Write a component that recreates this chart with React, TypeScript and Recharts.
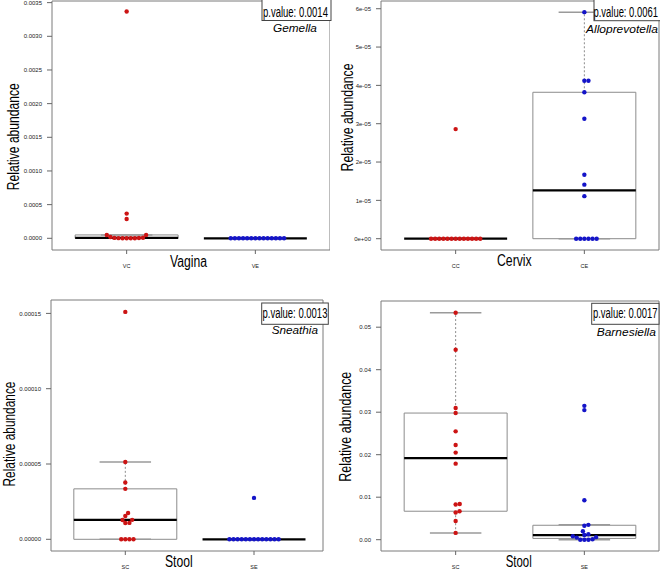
import React from 'react';
import { ComposedChart, Scatter, XAxis, YAxis, ReferenceArea, ReferenceLine } from 'recharts';

const FONT = '"Liberation Sans", Arial, Helvetica, sans-serif';
const RED = '#CC1414';
const BLUE = '#1414C8';

// ---------- data ----------
const vaginaGroups = ['VC', 'VE'];
const vaginaVC = [0.003368, 0.000367, 0.000287, 0.00005, 0.000048, 0.00002, 0.000008, 0.000006, 0.000004, 0.000002, 0, 0, 0, 0];
const vaginaVE = [0, 0, 0, 0, 0, 0, 0, 0, 0, 0, 0, 0, 0, 0];
const vaginaTicks = [0, 0.0005, 0.001, 0.0015, 0.002, 0.0025, 0.003, 0.0035];
const vaginaTickLabels = ['0.0000', '0.0005', '0.0010', '0.0015', '0.0020', '0.0025', '0.0030', '0.0035'];

const cervixGroups = ['CC', 'CE'];
const cervixCC = [0.0000286, 0, 0, 0, 0, 0, 0, 0, 0, 0, 0, 0, 0, 0];
const cervixCE = [0.0000591, 0.0000412, 0.0000412, 0.0000382, 0.0000313, 0.0000167, 0.0000141, 0.0000111, 0, 0, 0, 0, 0, 0];
const cervixTicks = [0, 0.00001, 0.00002, 0.00003, 0.00004, 0.00005, 0.00006];
const cervixTickLabels = ['0e+00', '1e-05', '2e-05', '3e-05', '4e-05', '5e-05', '6e-05'];

const stoolGroups = ['SC', 'SE'];
const sneathiaSC = [0.000151, 0.0000513, 0.0000377, 0.0000335, 0.0000175, 0.0000155, 0.0000129, 0.0000128, 0.0000109, 0.0000108, 0, 0, 0, 0];
const sneathiaSE = [0.0000275, 0, 0, 0, 0, 0, 0, 0, 0, 0, 0, 0, 0, 0];
const sneathiaTicks = [0, 0.00005, 0.0001, 0.00015];
const sneathiaTickLabels = ['0.00000', '0.00005', '0.00010', '0.00015'];

const barnesiellaSC = [0.0534, 0.0447, 0.031, 0.0298, 0.0255, 0.0223, 0.0205, 0.0179, 0.0084, 0.0083, 0.0067, 0.0064, 0.0044, 0.0016];
const barnesiellaSE = [0.0315, 0.0305, 0.0093, 0.0035, 0.0033, 0.002, 0.0013, 0.0011, 0.0008, 0.0006, 0.0005, 0.0001, 0, 0, 0];
const barnesiellaTicks = [0, 0.01, 0.02, 0.03, 0.04, 0.05];
const barnesiellaTickLabels = ['0.00', '0.01', '0.02', '0.03', '0.04', '0.05'];

const pValues = ['p.value: 0.0014', 'p.value: 0.0061', 'p.value: 0.0013', 'p.value: 0.0017'];
const taxa = ['Gemella', 'Alloprevotella', 'Sneathia', 'Barnesiella'];
const sites = ['Vagina', 'Cervix', 'Stool', 'Stool'];
const yTitle = 'Relative abundance';

// ---------- helpers ----------
function fivenum(arr: number[]) {
  const x = [...arr].sort((a, b) => a - b);
  const n = x.length;
  const n4 = Math.floor((n + 3) / 2) / 2;
  const d = [1, n4, (n + 1) / 2, n + 1 - n4, n];
  return d.map((di) => 0.5 * (x[Math.floor(di) - 1] + x[Math.ceil(di) - 1]));
}

function boxStats(arr: number[]) {
  const [, q1, med, q3] = fivenum(arr);
  const iqr = q3 - q1;
  const hiF = q3 + 1.5 * iqr;
  const loF = q1 - 1.5 * iqr;
  const inside = arr.filter((v) => v <= hiF + 1e-15 && v >= loF - 1e-15);
  return { q1, med, q3, lo: Math.min(...inside), hi: Math.max(...inside) };
}

// beeswarm-like "swarm" placement (pixel offsets)
function swarm(values: number[], pxPerY: number, s: number) {
  const items = values.map((v, i) => ({ i, py: v * pxPerY }));
  items.sort((a, b) => a.py - b.py);
  const placed: { x: number; py: number }[] = [];
  const out: number[] = new Array(values.length).fill(0);
  for (const it of items) {
    const cands = [0];
    for (const p of placed) {
      const dy = Math.abs(p.py - it.py);
      if (dy < s) {
        const d = Math.sqrt(s * s - dy * dy);
        cands.push(p.x + d, p.x - d);
      }
    }
    const ok = cands.filter((x) =>
      placed.every((p) => (x - p.x) ** 2 + (it.py - p.py) ** 2 >= s * s - 1e-6)
    );
    ok.sort((a, b) => {
      const da = Math.abs(a) - Math.abs(b);
      if (Math.abs(da) > 1e-9) return da;
      return b - a;
    });
    const x = ok[0];
    placed.push({ x, py: it.py });
    out[it.i] = x;
  }
  return out;
}

let measureCtx: CanvasRenderingContext2D | null = null;
function measure(text: string, size: number, italic?: boolean) {
  try {
    if (!measureCtx) measureCtx = document.createElement('canvas').getContext('2d');
    if (measureCtx) {
      measureCtx.font = `${italic ? 'italic ' : ''}${size}px ${FONT}`;
      const w = measureCtx.measureText(text).width;
      if (w > 0) return w;
    }
  } catch (e) {
    /* ignore */
  }
  return text.length * size * 0.5;
}

type PanelProps = {
  left: number;
  top: number;
  width: number;
  height: number;
  marginTop: number;
  marginRight: number;
  yAxisWidth: number;
  xAxisHeight: number;
  xDomain: [number, number];
  yDomain: [number, number];
  yTicks: number[];
  yTickLabels: string[];
  groups: string[];
  series: number[][];
};

const COLORS = [RED, BLUE];

function Panel(p: PanelProps) {
  const plotW = p.width - p.yAxisWidth - p.marginRight;
  const plotH = p.height - p.marginTop - p.xAxisHeight;
  const pxPerX = plotW / (p.xDomain[1] - p.xDomain[0]);
  const pxPerY = plotH / (p.yDomain[1] - p.yDomain[0]);

  const scatterData = p.series.map((vals, gi) => {
    const offs = swarm(vals, pxPerY, 4.1);
    return vals.map((v, i) => ({ x: gi + 1 + offs[i] / pxPerX, y: v }));
  });
  const stats = p.series.map((vals) => boxStats(vals));

  const yFmt = (v: number) => {
    const idx = p.yTicks.findIndex((t) => Math.abs(t - v) < 1e-12);
    return idx >= 0 ? p.yTickLabels[idx] : '';
  };

  return (
    <div style={{ position: 'absolute', left: p.left, top: p.top }}>
      <ComposedChart
        width={p.width}
        height={p.height}
        margin={{ top: p.marginTop, right: p.marginRight, bottom: 0, left: 0 }}
      >
        <XAxis
          type="number"
          dataKey="x"
          domain={p.xDomain}
          allowDataOverflow
          ticks={[1, 2]}
          interval={0}
          tickFormatter={(v: number) => p.groups[Math.round(v) - 1]}
          axisLine={false}
          tickLine={{ stroke: '#666' }}
          tickSize={4}
          tickMargin={10}
          height={p.xAxisHeight}
          tick={{ fontSize: 5.5, fill: '#222', fontFamily: FONT }}
        />
        <YAxis
          type="number"
          dataKey="y"
          domain={p.yDomain}
          allowDataOverflow
          ticks={p.yTicks}
          interval={0}
          tickFormatter={yFmt}
          axisLine={false}
          tickLine={{ stroke: '#666' }}
          tickSize={5}
          tickMargin={5}
          width={p.yAxisWidth}
          tick={{ fontSize: 6, fill: '#222', fontFamily: FONT }}
        />
        <ReferenceArea
          x1={p.xDomain[0]}
          x2={p.xDomain[1]}
          y1={p.yDomain[0]}
          y2={p.yDomain[1]}
          fill="none"
          fillOpacity={0}
          stroke="#7a7a7a"
          strokeWidth={1}
          ifOverflow="visible"
        />
        {stats.map((st, gi) => {
          const c = gi + 1;
          const els: any[] = [];
          if (st.q3 > st.q1) {
            els.push(
              <ReferenceArea
                key={`box${gi}`}
                x1={c - 0.4}
                x2={c + 0.4}
                y1={st.q1}
                y2={st.q3}
                fill="#ffffff"
                fillOpacity={0}
                stroke="#8c8c8c"
                strokeWidth={1}
                ifOverflow="visible"
              />
            );
          }
          if (st.hi > st.q3) {
            els.push(
              <ReferenceLine
                key={`wh${gi}`}
                segment={[{ x: c, y: st.q3 }, { x: c, y: st.hi }]}
                stroke="#8c8c8c"
                strokeDasharray="2 2"
                ifOverflow="visible"
              />
            );
          }
          if (st.lo < st.q1) {
            els.push(
              <ReferenceLine
                key={`wl${gi}`}
                segment={[{ x: c, y: st.q1 }, { x: c, y: st.lo }]}
                stroke="#8c8c8c"
                strokeDasharray="2 2"
                ifOverflow="visible"
              />
            );
          }
          els.push(
            <ReferenceLine
              key={`ch${gi}`}
              segment={[{ x: c - 0.2, y: st.hi }, { x: c + 0.2, y: st.hi }]}
              stroke="#9a9a9a"
              strokeWidth={1.5}
              ifOverflow="visible"
            />
          );
          els.push(
            <ReferenceLine
              key={`cl${gi}`}
              segment={[{ x: c - 0.2, y: st.lo }, { x: c + 0.2, y: st.lo }]}
              stroke="#9a9a9a"
              strokeWidth={1.5}
              ifOverflow="visible"
            />
          );
          els.push(
            <ReferenceLine
              key={`md${gi}`}
              segment={[{ x: c - 0.4, y: st.med }, { x: c + 0.4, y: st.med }]}
              stroke="#000"
              strokeWidth={2.2}
              ifOverflow="visible"
            />
          );
          return els;
        })}
        {scatterData.map((d, gi) => (
          <Scatter
            key={`s${gi}`}
            data={d}
            dataKey="y"
            isAnimationActive={false}
            shape={(props: any) => <circle cx={props.cx} cy={props.cy} r={2.2} fill={COLORS[gi]} />}
          />
        ))}
      </ComposedChart>
    </div>
  );
}

type Txt = { x: number; y: number; w: number; size: number; italic?: boolean; rotate?: boolean };

function Label({ t, s }: { t: Txt; s: string }) {
  const natural = measure(s, t.size, t.italic);
  const sx = t.w / natural;
  if (t.rotate) {
    return (
      <text
        transform={`translate(${t.x},${t.y}) rotate(-90) scale(${sx},1)`}
        x={0}
        y={0}
        textAnchor="middle"
        fontFamily={FONT}
        fontSize={t.size}
        fill="#000"
      >
        {s}
      </text>
    );
  }
  return (
    <text
      transform={`translate(${t.x},${t.y}) scale(${sx},1)`}
      x={0}
      y={0}
      textAnchor="start"
      fontFamily={FONT}
      fontSize={t.size}
      fontStyle={t.italic ? 'italic' : 'normal'}
      fill="#000"
    >
      {s}
    </text>
  );
}

const pBoxes = [
  { x: 262, y: -2, w: 69, h: 22.5 },
  { x: 594, y: -2, w: 67, h: 22.7 },
  { x: 261.7, y: 303, w: 66.6, h: 21.3 },
  { x: 591.7, y: 303.3, w: 67.3, h: 21 },
];
const pTexts: Txt[] = [
  { x: 263, y: 16.5, w: 65, size: 15.5 },
  { x: 593.5, y: 17, w: 64.5, size: 15.5 },
  { x: 262.5, y: 317.5, w: 65, size: 15.5 },
  { x: 593, y: 318, w: 64.5, size: 15.5 },
];
const taxaTexts: Txt[] = [
  { x: 273, y: 32.3, w: 44, size: 11.5, italic: true },
  { x: 586, y: 33.3, w: 72, size: 11.5, italic: true },
  { x: 271.7, y: 334, w: 46.3, size: 11.5, italic: true },
  { x: 596.7, y: 335.7, w: 59.3, size: 11.5, italic: true },
];
const siteTexts: Txt[] = [
  { x: 170, y: 266.5, w: 37, size: 16 },
  { x: 497, y: 266, w: 34.7, size: 16 },
  { x: 165, y: 566.7, w: 27.7, size: 16 },
  { x: 505.7, y: 566.7, w: 26, size: 16 },
];
const yTitleTexts: Txt[] = [
  { x: 19.3, y: 136.7, w: 107, size: 16, rotate: true },
  { x: 353.3, y: 117.5, w: 108, size: 16, rotate: true },
  { x: 15, y: 434, w: 105, size: 16, rotate: true },
  { x: 350.7, y: 426.7, w: 110, size: 16, rotate: true },
];

export default function App() {
  return (
    <div style={{ position: 'absolute', left: 0, top: 0, width: 660, height: 569, background: '#fff', overflow: 'hidden' }}>
      <Panel
        left={0}
        top={0}
        width={330}
        height={285}
        marginTop={1}
        marginRight={0}
        yAxisWidth={52}
        xAxisHeight={35}
        xDomain={[0.42, 2.58]}
        yDomain={[-0.00017376, 0.0035243]}
        yTicks={vaginaTicks}
        yTickLabels={vaginaTickLabels}
        groups={vaginaGroups}
        series={[vaginaVC, vaginaVE]}
      />
      <Panel
        left={330}
        top={0}
        width={330}
        height={285}
        marginTop={1}
        marginRight={1}
        yAxisWidth={51}
        xAxisHeight={35}
        xDomain={[0.42, 2.58]}
        yDomain={[-0.000002948, 0.000062014]}
        yTicks={cervixTicks}
        yTickLabels={cervixTickLabels}
        groups={cervixGroups}
        series={[cervixCC, cervixCE]}
      />
      <Panel
        left={0}
        top={285}
        width={330}
        height={284}
        marginTop={15}
        marginRight={7}
        yAxisWidth={51}
        xAxisHeight={18}
        xDomain={[0.4227, 2.536]}
        yDomain={[-0.000007769, 0.000158898]}
        yTicks={sneathiaTicks}
        yTickLabels={sneathiaTickLabels}
        groups={stoolGroups}
        series={[sneathiaSC, sneathiaSE]}
      />
      <Panel
        left={330}
        top={285}
        width={330}
        height={284}
        marginTop={16}
        marginRight={1}
        yAxisWidth={51}
        xAxisHeight={18}
        xDomain={[0.42, 2.58]}
        yDomain={[-0.0026588, 0.056165]}
        yTicks={barnesiellaTicks}
        yTickLabels={barnesiellaTickLabels}
        groups={stoolGroups}
        series={[barnesiellaSC, barnesiellaSE]}
      />
      <svg
        width={660}
        height={569}
        style={{ position: 'absolute', left: 0, top: 0, pointerEvents: 'none' }}
      >
        {pBoxes.map((b, i) => (
          <rect key={`pb${i}`} x={b.x} y={b.y} width={b.w} height={b.h} fill="#fff" stroke="#444" strokeWidth={1} />
        ))}
        {pTexts.map((t, i) => (
          <Label key={`pt${i}`} t={t} s={pValues[i]} />
        ))}
        {taxaTexts.map((t, i) => (
          <Label key={`tx${i}`} t={t} s={taxa[i]} />
        ))}
        {siteTexts.map((t, i) => (
          <Label key={`st${i}`} t={t} s={sites[i]} />
        ))}
        {yTitleTexts.map((t, i) => (
          <Label key={`yt${i}`} t={t} s={yTitle} />
        ))}
      </svg>
    </div>
  );
}
